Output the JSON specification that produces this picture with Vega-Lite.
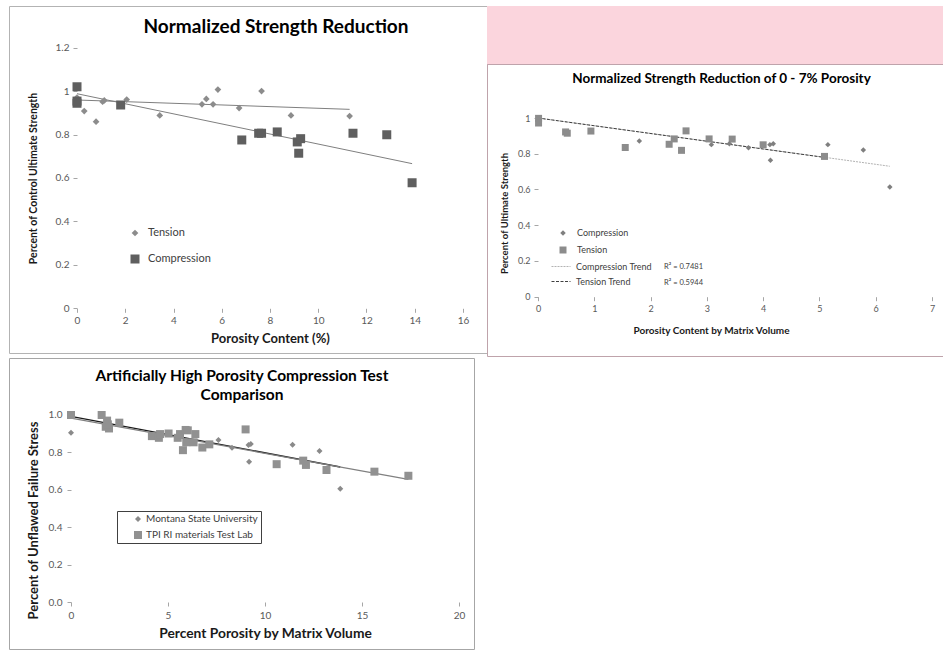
{
  "$schema": "https://vega.github.io/schema/vega-lite/v6.json",
  "padding": {"left": 8, "top": 5, "right": 0, "bottom": 0},
  "background": "white",
  "spacing": 0,
  "resolve": {"scale": {"color": "independent", "shape": "independent", "size": "independent", "stroke": "independent", "strokeDash": "independent"}, "legend": {"color": "independent", "shape": "independent", "size": "independent", "stroke": "independent", "strokeDash": "independent"}},
  "config": {
    "font": "Lato",
    "axis": {"grid": false, "domain": false, "labelFont": "Lato", "titleFont": "Lato", "labelColor": "#595959", "tickColor": "#a6a6a6", "titleColor": "#1a1a1a", "labelFlush": false, "tickSize": 4, "titleFontWeight": "bold"},
    "legend": {"labelFont": "Lato", "labelColor": "#404040", "padding": 0, "title": null},
    "title": {"font": "Lato", "color": "#000000", "fontWeight": "bold"}
  },
  "vconcat": [
    {
      "spacing": 0,
      "bounds": "flush",
      "resolve": {"scale": {"color": "independent", "shape": "independent", "size": "independent", "stroke": "independent", "strokeDash": "independent"}, "legend": {"color": "independent", "shape": "independent", "size": "independent", "stroke": "independent", "strokeDash": "independent"}},
      "hconcat": [
        {
          "width": 478, "height": 347,
          "view": {"stroke": "#b3b3b3", "fill": "white"},
          "title": {"text": "Normalized Strength Reduction", "fontSize": 19, "anchor": "middle", "frame": "group", "dx": 28, "offset": -31},
          "encoding": {
            "x": {"field": "x", "type": "quantitative", "scale": {"domain": [-2.819, 16.995], "nice": false, "zero": false},
                  "axis": {"values": [0, 2, 4, 6, 8, 10, 12, 14, 16], "offset": -44.7, "labelFontSize": 10, "labelPadding": 3, "title": "Porosity Content (%)", "titleFontSize": 13, "titleX": 261, "titleY": 30, "titleBaseline": "middle"}},
            "y": {"field": "y", "type": "quantitative", "scale": {"domain": [-0.2058, 1.3918], "nice": false, "zero": false},
                  "axis": {"values": [0, 0.2, 0.4, 0.6, 0.8, 1, 1.2], "format": ".1~f", "offset": -68, "labelFontSize": 10, "labelPadding": 4, "title": "Percent of Control Ultimate Strength", "titleFontSize": 10.5, "titleX": -44, "titleY": 172, "titleBaseline": "middle"}}
          },
          "layer": [
            {"data": {"values": [{"y": 0.2}, {"y": 0.4}, {"y": 0.6}, {"y": 0.8}, {"y": 1.0}, {"y": 1.2}]},
             "mark": {"type": "rule", "color": "#d9d9d9", "strokeWidth": 1},
             "encoding": {"x": {"datum": 0}, "x2": {"datum": 16}}},
            {"data": {"values": [{}]}, "mark": {"type": "rule", "color": "#bfbfbf"},
             "encoding": {"x": {"datum": 0}, "x2": {"datum": 16}, "y": {"datum": 0}}},
            {"data": {"values": [{}]}, "mark": {"type": "rule", "color": "#bfbfbf"},
             "encoding": {"x": {"datum": 0}, "y": {"datum": 0}, "y2": {"datum": 1.2}}},
            {"data": {"values": [
                {"x": 0, "y": 0.959, "trend": "Tension"}, {"x": 11.3, "y": 0.916, "trend": "Tension"},
                {"x": 0, "y": 0.988, "trend": "Compression"}, {"x": 13.89, "y": 0.666, "trend": "Compression"}]},
             "mark": {"type": "line", "color": "#7f7f7f", "strokeWidth": 1},
             "encoding": {"detail": {"field": "trend"}}},
            {"data": {"values": [
                {"x": 0, "y": 0.97, "series": "Tension"},
                {"x": 0.3, "y": 0.908, "series": "Tension"},
                {"x": 0.79, "y": 0.859, "series": "Tension"},
                {"x": 1.06, "y": 0.951, "series": "Tension"},
                {"x": 1.13, "y": 0.957, "series": "Tension"},
                {"x": 2.06, "y": 0.961, "series": "Tension"},
                {"x": 3.43, "y": 0.888, "series": "Tension"},
                {"x": 5.18, "y": 0.939, "series": "Tension"},
                {"x": 5.36, "y": 0.964, "series": "Tension"},
                {"x": 5.64, "y": 0.939, "series": "Tension"},
                {"x": 5.84, "y": 1.007, "series": "Tension"},
                {"x": 6.72, "y": 0.922, "series": "Tension"},
                {"x": 7.65, "y": 1.0, "series": "Tension"},
                {"x": 8.87, "y": 0.888, "series": "Tension"},
                {"x": 11.3, "y": 0.885, "series": "Tension"},
                {"x": 0, "y": 1.02, "series": "Compression"},
                {"x": 0, "y": 0.954, "series": "Compression"},
                {"x": 0, "y": 0.944, "series": "Compression"},
                {"x": 1.81, "y": 0.936, "series": "Compression"},
                {"x": 6.83, "y": 0.775, "series": "Compression"},
                {"x": 7.53, "y": 0.806, "series": "Compression"},
                {"x": 7.65, "y": 0.806, "series": "Compression"},
                {"x": 8.3, "y": 0.812, "series": "Compression"},
                {"x": 9.13, "y": 0.766, "series": "Compression"},
                {"x": 9.27, "y": 0.781, "series": "Compression"},
                {"x": 9.19, "y": 0.714, "series": "Compression"},
                {"x": 11.44, "y": 0.806, "series": "Compression"},
                {"x": 12.84, "y": 0.799, "series": "Compression"},
                {"x": 13.89, "y": 0.578, "series": "Compression"}]},
             "mark": {"type": "point", "filled": true, "opacity": 1, "strokeWidth": 0},
             "encoding": {
               "color": {"field": "series", "type": "nominal", "scale": {"domain": ["Tension", "Compression"], "range": ["#8c8c8c", "#5f5f5f"]},
                         "legend": {"orient": "none", "legendX": 120.5, "legendY": 221.5, "labelFontSize": 11, "labelOffset": 7.5, "rowPadding": 14}},
               "shape": {"field": "series", "type": "nominal", "scale": {"domain": ["Tension", "Compression"], "range": ["diamond", "square"]},
                         "legend": {"orient": "none", "legendX": 120.5, "legendY": 221.5, "labelFontSize": 11, "labelOffset": 7.5, "rowPadding": 14}},
               "size": {"field": "series", "type": "nominal", "scale": {"domain": ["Tension", "Compression"], "range": [45, 81]},
                        "legend": {"orient": "none", "legendX": 120.5, "legendY": 221.5, "labelFontSize": 11, "labelOffset": 7.5, "rowPadding": 14}}
             }}
          ]
        },
        {
          "spacing": 0,
          "bounds": "flush",
          "resolve": {"scale": {"color": "independent", "shape": "independent", "size": "independent", "stroke": "independent", "strokeDash": "independent"}, "legend": {"color": "independent", "shape": "independent", "size": "independent", "stroke": "independent", "strokeDash": "independent"}},
          "vconcat": [
            {"width": 457, "height": 58, "data": {"values": [{}]}, "mark": {"type": "rect", "color": "#fbd5dd"}, "encoding": {},
             "view": {"fill": "#fbd5dd", "stroke": "#d89aab"}},
            {
              "width": 457, "height": 292,
              "view": {"stroke": "#bfa3ab", "fill": "white"},
              "title": {"text": "Normalized Strength Reduction of 0 - 7%  Porosity", "fontSize": 13.5, "anchor": "middle", "frame": "group", "dx": 6, "offset": -21},
              "encoding": {
                "x": {"field": "x", "type": "quantitative", "scale": {"domain": [-0.906, 7.213], "nice": false, "zero": false},
                      "axis": {"values": [0, 1, 2, 3, 4, 5, 6, 7], "format": "d", "offset": -59.3, "labelFontSize": 9, "labelPadding": 4, "title": "Porosity Content by Matrix Volume", "titleFontSize": 10, "titleX": 224, "titleY": 33.3, "titleBaseline": "middle"}},
                "y": {"field": "y", "type": "quantitative", "scale": {"domain": [-0.3318, 1.3022], "nice": false, "zero": false},
                      "axis": {"values": [0, 0.2, 0.4, 0.6, 0.8, 1], "format": ".1~f", "offset": -51, "labelFontSize": 9, "labelPadding": 4, "title": "Percent of Ultimate Strength", "titleFontSize": 9.5, "titleX": -34, "titleY": 149, "titleBaseline": "middle"}}
              },
              "layer": [
                {"data": {"values": [{}]}, "mark": {"type": "rule", "color": "#a6a6a6"},
                 "encoding": {"x": {"datum": 0}, "x2": {"datum": 7}, "y": {"datum": 0}}},
                {"data": {"values": [{}]}, "mark": {"type": "rule", "color": "#a6a6a6"},
                 "encoding": {"x": {"datum": 0}, "y": {"datum": 0}, "y2": {"datum": 1}}},
                {"data": {"values": [
                    {"x": 0, "y": 1.0, "trend": "Compression Trend"}, {"x": 6.25, "y": 0.73, "trend": "Compression Trend"},
                    {"x": 0, "y": 1.0, "trend": "Tension Trend"}, {"x": 5.1, "y": 0.779, "trend": "Tension Trend"}]},
                 "mark": {"type": "line", "strokeWidth": 1},
                 "encoding": {
                   "stroke": {"field": "trend", "type": "nominal", "scale": {"domain": ["Compression Trend", "Tension Trend"], "range": ["#b3b3b3", "#404040"]},
                              "legend": {"orient": "none", "legendX": 64, "legendY": 192.5, "labelFontSize": 9, "labelOffset": 5, "rowPadding": -3, "symbolSize": 361, "symbolStrokeWidth": 1}},
                   "strokeDash": {"field": "trend", "type": "nominal", "scale": {"domain": ["Compression Trend", "Tension Trend"], "range": [[2, 1], [3, 1.5]]},
                              "legend": {"orient": "none", "legendX": 64, "legendY": 192.5, "labelFontSize": 9, "labelOffset": 5, "rowPadding": -3, "symbolSize": 361, "symbolStrokeWidth": 1}}
                 }},
                {"data": {"values": [
                    {"x": 2.24, "y": 0.166, "label": "R² = 0.7481"},
                    {"x": 2.24, "y": 0.077, "label": "R² = 0.5944"}]},
                 "mark": {"type": "text", "align": "left", "baseline": "middle", "fontSize": 7.5, "color": "#404040"},
                 "encoding": {"text": {"field": "label"}}},
                {"data": {"values": [
                    {"x": 0.01, "y": 0.998, "series": "Tension"},
                    {"x": 0.01, "y": 0.972, "series": "Tension"},
                    {"x": 0.49, "y": 0.922, "series": "Tension"},
                    {"x": 0.52, "y": 0.915, "series": "Tension"},
                    {"x": 0.94, "y": 0.927, "series": "Tension"},
                    {"x": 1.55, "y": 0.835, "series": "Tension"},
                    {"x": 2.33, "y": 0.853, "series": "Tension"},
                    {"x": 2.42, "y": 0.883, "series": "Tension"},
                    {"x": 2.55, "y": 0.819, "series": "Tension"},
                    {"x": 2.63, "y": 0.928, "series": "Tension"},
                    {"x": 3.04, "y": 0.883, "series": "Tension"},
                    {"x": 3.45, "y": 0.882, "series": "Tension"},
                    {"x": 4.0, "y": 0.85, "series": "Tension"},
                    {"x": 5.09, "y": 0.785, "series": "Tension"},
                    {"x": 1.8, "y": 0.871, "series": "Compression"},
                    {"x": 3.08, "y": 0.851, "series": "Compression"},
                    {"x": 3.4, "y": 0.856, "series": "Compression"},
                    {"x": 3.74, "y": 0.834, "series": "Compression"},
                    {"x": 4.12, "y": 0.851, "series": "Compression"},
                    {"x": 4.18, "y": 0.856, "series": "Compression"},
                    {"x": 4.13, "y": 0.764, "series": "Compression"},
                    {"x": 5.15, "y": 0.851, "series": "Compression"},
                    {"x": 5.78, "y": 0.821, "series": "Compression"},
                    {"x": 6.25, "y": 0.614, "series": "Compression"}]},
                 "mark": {"type": "point", "filled": true, "opacity": 1, "strokeWidth": 0},
                 "encoding": {
                   "color": {"field": "series", "type": "nominal", "scale": {"domain": ["Compression", "Tension"], "range": ["#7f7f7f", "#8c8c8c"]},
                             "legend": {"orient": "none", "legendX": 71.5, "legendY": 164.5, "labelFontSize": 9, "labelOffset": 9.5, "rowPadding": 7}},
                   "shape": {"field": "series", "type": "nominal", "scale": {"domain": ["Compression", "Tension"], "range": ["diamond", "square"]},
                             "legend": {"orient": "none", "legendX": 71.5, "legendY": 164.5, "labelFontSize": 9, "labelOffset": 9.5, "rowPadding": 7}},
                   "size": {"field": "series", "type": "nominal", "scale": {"domain": ["Compression", "Tension"], "range": [30, 49]},
                            "legend": {"orient": "none", "legendX": 71.5, "legendY": 164.5, "labelFontSize": 9, "labelOffset": 9.5, "rowPadding": 7}}
                 }}
              ]
            }
          ]
        }
      ]
    },
    {
      "width": 465, "height": 291,
      "view": {"stroke": "#a6a6a6", "fill": "white"},
      "title": {"text": ["Artificially High Porosity Compression Test", "Comparison"], "fontSize": 15.5, "lineHeight": 19, "anchor": "middle", "frame": "group", "dx": 0.5, "offset": -45},
      "encoding": {
        "x": {"field": "x", "type": "quantitative", "scale": {"domain": [-3.196, 20.773], "nice": false, "zero": false},
              "axis": {"values": [0, 5, 10, 15, 20], "format": "d", "offset": -47, "labelFontSize": 10, "labelPadding": 4, "title": "Percent Porosity by Matrix Volume", "titleFontSize": 13.8, "titleX": 256, "titleY": 31, "titleBaseline": "middle"}},
        "y": {"field": "y", "type": "quantitative", "scale": {"domain": [-0.2513, 1.3048], "nice": false, "zero": false},
              "axis": {"values": [0, 0.2, 0.4, 0.6, 0.8, 1.0], "format": ".1f", "offset": -62, "labelFontSize": 10, "labelPadding": 5, "title": "Percent of  Unflawed Failure Stress", "titleFontSize": 13, "titleX": -38, "titleY": 162, "titleBaseline": "middle"}}
      },
      "layer": [
        {"data": {"values": [{"y": 0.2}, {"y": 0.4}, {"y": 0.6}, {"y": 0.8}, {"y": 1.0}]},
         "mark": {"type": "rule", "color": "#c8c8c8", "strokeWidth": 1},
         "encoding": {"x": {"datum": 0}, "x2": {"datum": 20}}},
        {"data": {"values": [{}]}, "mark": {"type": "rule", "color": "#a6a6a6"},
         "encoding": {"x": {"datum": 0}, "x2": {"datum": 20}, "y": {"datum": 0}}},
        {"data": {"values": [{}]}, "mark": {"type": "rule", "color": "#a6a6a6"},
         "encoding": {"x": {"datum": 0}, "y": {"datum": 0}, "y2": {"datum": 1.0}}},
        {"data": {"values": [
            {"x": 0, "y": 0.993, "trend": "Montana"}, {"x": 13.88, "y": 0.722, "trend": "Montana"},
            {"x": 0, "y": 0.983, "trend": "TPI"}, {"x": 17.39, "y": 0.656, "trend": "TPI"}]},
         "mark": {"type": "line", "strokeWidth": 1.3},
         "encoding": {"stroke": {"field": "trend", "type": "nominal", "scale": {"domain": ["Montana", "TPI"], "range": ["#1a1a1a", "#808080"]}, "legend": null}}},
        {"data": {"values": [
            {"x": 0, "y": 0.905, "series": "Montana State University"},
            {"x": 7.6, "y": 0.866, "series": "Montana State University"},
            {"x": 8.3, "y": 0.825, "series": "Montana State University"},
            {"x": 9.15, "y": 0.84, "series": "Montana State University"},
            {"x": 9.27, "y": 0.845, "series": "Montana State University"},
            {"x": 9.18, "y": 0.75, "series": "Montana State University"},
            {"x": 11.42, "y": 0.841, "series": "Montana State University"},
            {"x": 12.81, "y": 0.807, "series": "Montana State University"},
            {"x": 13.88, "y": 0.605, "series": "Montana State University"},
            {"x": 0, "y": 1.0, "series": "TPI RI materials Test Lab"},
            {"x": 1.58, "y": 1.0, "series": "TPI RI materials Test Lab"},
            {"x": 1.86, "y": 0.97, "series": "TPI RI materials Test Lab"},
            {"x": 1.79, "y": 0.937, "series": "TPI RI materials Test Lab"},
            {"x": 1.96, "y": 0.928, "series": "TPI RI materials Test Lab"},
            {"x": 1.9, "y": 0.95, "series": "TPI RI materials Test Lab"},
            {"x": 2.49, "y": 0.959, "series": "TPI RI materials Test Lab"},
            {"x": 4.17, "y": 0.887, "series": "TPI RI materials Test Lab"},
            {"x": 4.53, "y": 0.878, "series": "TPI RI materials Test Lab"},
            {"x": 4.59, "y": 0.898, "series": "TPI RI materials Test Lab"},
            {"x": 5.03, "y": 0.901, "series": "TPI RI materials Test Lab"},
            {"x": 5.5, "y": 0.878, "series": "TPI RI materials Test Lab"},
            {"x": 5.62, "y": 0.898, "series": "TPI RI materials Test Lab"},
            {"x": 5.91, "y": 0.92, "series": "TPI RI materials Test Lab"},
            {"x": 6.02, "y": 0.918, "series": "TPI RI materials Test Lab"},
            {"x": 5.77, "y": 0.812, "series": "TPI RI materials Test Lab"},
            {"x": 5.94, "y": 0.854, "series": "TPI RI materials Test Lab"},
            {"x": 6.32, "y": 0.854, "series": "TPI RI materials Test Lab"},
            {"x": 6.41, "y": 0.898, "series": "TPI RI materials Test Lab"},
            {"x": 6.77, "y": 0.826, "series": "TPI RI materials Test Lab"},
            {"x": 7.13, "y": 0.843, "series": "TPI RI materials Test Lab"},
            {"x": 9.0, "y": 0.923, "series": "TPI RI materials Test Lab"},
            {"x": 10.6, "y": 0.737, "series": "TPI RI materials Test Lab"},
            {"x": 11.97, "y": 0.756, "series": "TPI RI materials Test Lab"},
            {"x": 12.11, "y": 0.733, "series": "TPI RI materials Test Lab"},
            {"x": 13.17, "y": 0.706, "series": "TPI RI materials Test Lab"},
            {"x": 15.64, "y": 0.697, "series": "TPI RI materials Test Lab"},
            {"x": 17.39, "y": 0.675, "series": "TPI RI materials Test Lab"}]},
         "mark": {"type": "point", "filled": true, "opacity": 1, "strokeWidth": 0},
         "encoding": {
           "color": {"field": "series", "type": "nominal", "scale": {"domain": ["Montana State University", "TPI RI materials Test Lab"], "range": ["#8a8a8a", "#919191"]},
                     "legend": {"orient": "none", "legendX": 108, "legendY": 153, "labelFontSize": 10, "labelOffset": 3, "rowPadding": 6, "padding": 3, "symbolOffset": 13, "strokeColor": "#404040", "fillColor": "white"}},
           "shape": {"field": "series", "type": "nominal", "scale": {"domain": ["Montana State University", "TPI RI materials Test Lab"], "range": ["diamond", "square"]},
                     "legend": {"orient": "none", "legendX": 108, "legendY": 153, "labelFontSize": 10, "labelOffset": 3, "rowPadding": 6, "padding": 3, "symbolOffset": 13, "strokeColor": "#404040", "fillColor": "white"}},
           "size": {"field": "series", "type": "nominal", "scale": {"domain": ["Montana State University", "TPI RI materials Test Lab"], "range": [36, 64]},
                    "legend": {"orient": "none", "legendX": 108, "legendY": 153, "labelFontSize": 10, "labelOffset": 3, "rowPadding": 6, "padding": 3, "symbolOffset": 13, "strokeColor": "#404040", "fillColor": "white"}}
         }}
      ]
    }
  ]
}
